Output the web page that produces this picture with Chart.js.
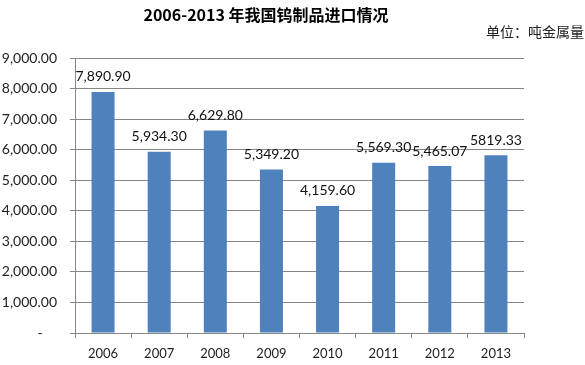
<!DOCTYPE html>
<html>
<head>
<meta charset="utf-8">
<script src="https://cdn.jsdelivr.net/npm/chart.js@4"></script>
<style>
  html, body { margin: 0; padding: 0; background: #fff; }
  canvas { display: block; }
</style>
</head>
<body>
<canvas id="tungsten" width="585" height="365"></canvas>
<script>
const years = ['2006', '2007', '2008', '2009', '2010', '2011', '2012', '2013'];
const imports = [7890.90, 5934.30, 6629.80, 5349.20, 4159.60, 5569.30, 5465.07, 5819.33];
const valueLabels = ['7,890.90', '5,934.30', '6,629.80', '5,349.20', '4,159.60', '5,569.30', '5,465.07', '5819.33'];

const chartTitle = '2006-2013 年我国钨制品进口情况';
const unitText = '单位：吨金属量';

const gridGrey = '#868686';

// title, unit and the numbers above the bars
const extras = {
  id: 'extras',
  afterDraw(chart) {
    const ctx = chart.ctx;
    ctx.save();
    ctx.fillStyle = '#000';
    ctx.textBaseline = 'middle';
    ctx.textAlign = 'center';
    ctx.font = 'bold 16px "Noto Sans CJK SC"';
    ctx.fillText(chartTitle, 266, 15);
    ctx.textAlign = 'right';
    ctx.font = '14px "Noto Sans CJK SC"';
    ctx.fillStyle = '#222';
    ctx.fillText(unitText, 584, 32);

    ctx.textAlign = 'center';
    ctx.font = '14px Lato';
    ctx.fillStyle = '#111';
    chart.getDatasetMeta(0).data.forEach((bar, i) => {
      ctx.fillText(valueLabels[i], bar.x, bar.y - 15);
    });
    ctx.restore();
  }
};

new Chart(document.getElementById('tungsten'), {
  type: 'bar',
  data: {
    labels: years,
    datasets: [{
      data: imports,
      backgroundColor: '#4F81BD',
      categoryPercentage: 1,
      barPercentage: 0.41
    }]
  },
  options: {
    responsive: false,
    devicePixelRatio: 1,
    animation: false,
    layout: { padding: { top: 58, right: 61, left: 0, bottom: 0 } },
    plugins: {
      legend: { display: false },
      tooltip: { enabled: false }
    },
    scales: {
      x: {
        afterFit: (s) => { s.height = 32; },
        grid: { drawOnChartArea: false, tickLength: 5, color: gridGrey },
        border: { color: gridGrey },
        ticks: { color: '#222', font: { family: 'Lato', size: 13 }, padding: 8 }
      },
      y: {
        min: 0,
        max: 9000,
        afterFit: (s) => { s.width = 75; },
        grid: { tickLength: 5, color: gridGrey },
        border: { color: gridGrey },
        ticks: {
          stepSize: 1000,
          padding: 13,
          color: '#222',
          font: { family: 'Lato', size: 14 },
          callback: (v) => v === 0 ? '-    ' : v.toLocaleString('en-US', { minimumFractionDigits: 2 })
        }
      }
    }
  },
  plugins: [extras]
});
</script>
</body>
</html>
